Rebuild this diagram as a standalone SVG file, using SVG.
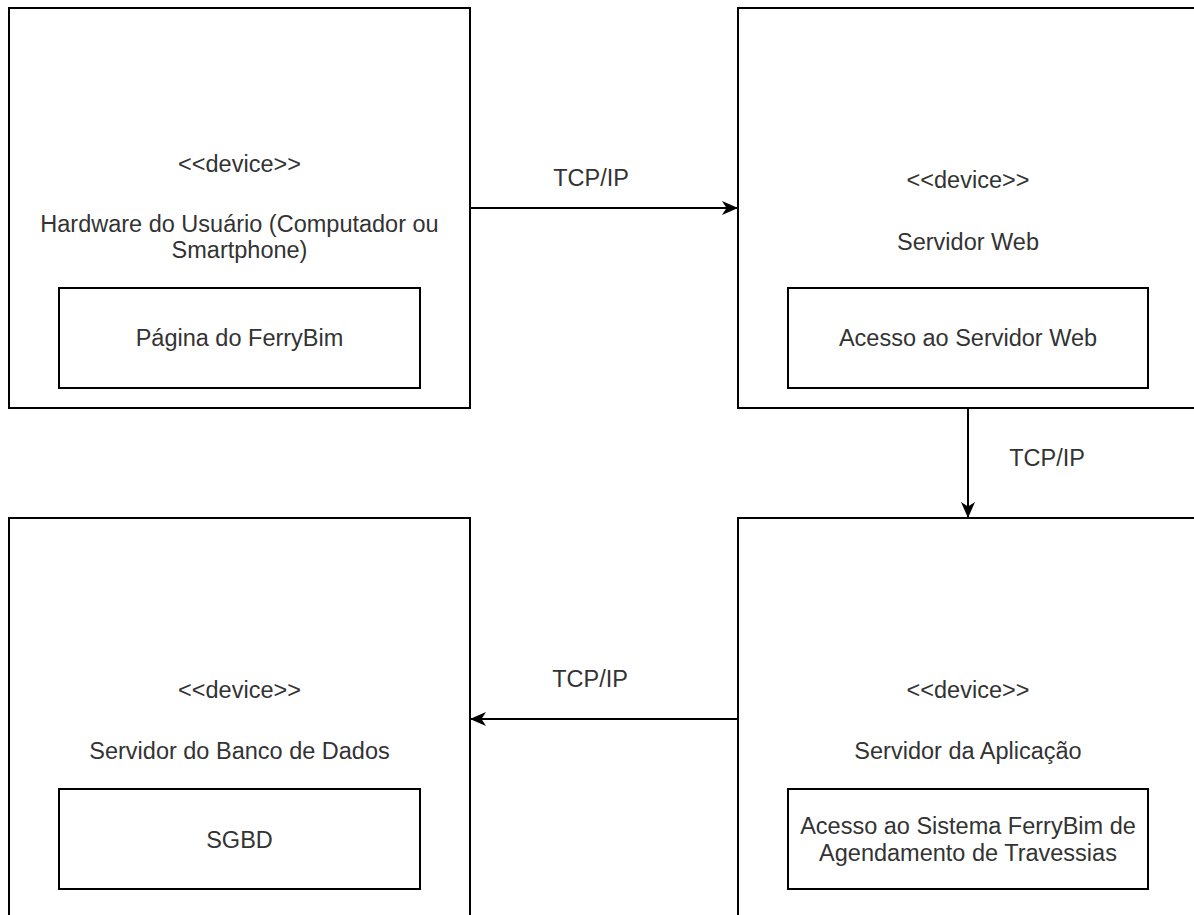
<svg xmlns="http://www.w3.org/2000/svg" width="1194" height="915" viewBox="0 0 1194 915">
  <style>
    .box { fill: #ffffff; stroke: #000000; stroke-width: 2; }
    .txt { font-family: "Liberation Sans", Arial, sans-serif; font-size: 23.5px; fill: #333333; text-anchor: middle; dominant-baseline: central; }
    .edge { fill: none; stroke: #000000; stroke-width: 2; }
  </style>
  <defs>
    <marker id="arrow" viewBox="0 0 16 14" refX="16" refY="7" markerWidth="16" markerHeight="14" markerUnits="userSpaceOnUse" orient="auto">
      <path d="M0,0 L16,7 L0,14 L4.5,7 Z" fill="#000000"/>
    </marker>
  </defs>
  <rect width="1194" height="915" fill="#ffffff"/>

  <g id="user-hardware">
    <rect class="box" x="9" y="8" width="461" height="400"/>
    <text class="txt" x="239.5" y="164">&lt;&lt;device&gt;&gt;</text>
    <text class="txt" x="239.5" y="224">Hardware do Usuário (Computador ou</text>
    <text class="txt" x="239.5" y="250">Smartphone)</text>
    <g id="ferrybim-page">
      <rect class="box" x="59" y="288" width="361" height="100"/>
      <text class="txt" x="239.5" y="338">Página do FerryBim</text>
    </g>
  </g>

  <g id="web-server">
    <rect class="box" x="738" y="8" width="462" height="400"/>
    <text class="txt" x="968" y="180">&lt;&lt;device&gt;&gt;</text>
    <text class="txt" x="968" y="242">Servidor Web</text>
    <g id="web-access">
      <rect class="box" x="788" y="288" width="360" height="100"/>
      <text class="txt" x="968" y="338">Acesso ao Servidor Web</text>
    </g>
  </g>

  <g id="db-server">
    <rect class="box" x="9" y="518" width="461" height="410"/>
    <text class="txt" x="239.5" y="690">&lt;&lt;device&gt;&gt;</text>
    <text class="txt" x="239.5" y="751">Servidor do Banco de Dados</text>
    <g id="sgbd">
      <rect class="box" x="59" y="789" width="361" height="100"/>
      <text class="txt" x="239.5" y="840">SGBD</text>
    </g>
  </g>

  <g id="app-server">
    <rect class="box" x="738" y="518" width="462" height="410"/>
    <text class="txt" x="968" y="690">&lt;&lt;device&gt;&gt;</text>
    <text class="txt" x="968" y="751">Servidor da Aplicação</text>
    <g id="scheduling-system">
      <rect class="box" x="788" y="789" width="360" height="100"/>
      <text class="txt" x="968" y="826">Acesso ao Sistema FerryBim de</text>
      <text class="txt" x="968" y="853">Agendamento de Travessias</text>
    </g>
  </g>

  <g id="connectors">
    <path class="edge" d="M470,208 L738,208" marker-end="url(#arrow)"/>
    <text class="txt" x="591" y="178">TCP/IP</text>
    <path class="edge" d="M968,408 L968,518" marker-end="url(#arrow)"/>
    <text class="txt" x="1047" y="458">TCP/IP</text>
    <path class="edge" d="M738,719 L470,719" marker-end="url(#arrow)"/>
    <text class="txt" x="590" y="679">TCP/IP</text>
  </g>
</svg>
